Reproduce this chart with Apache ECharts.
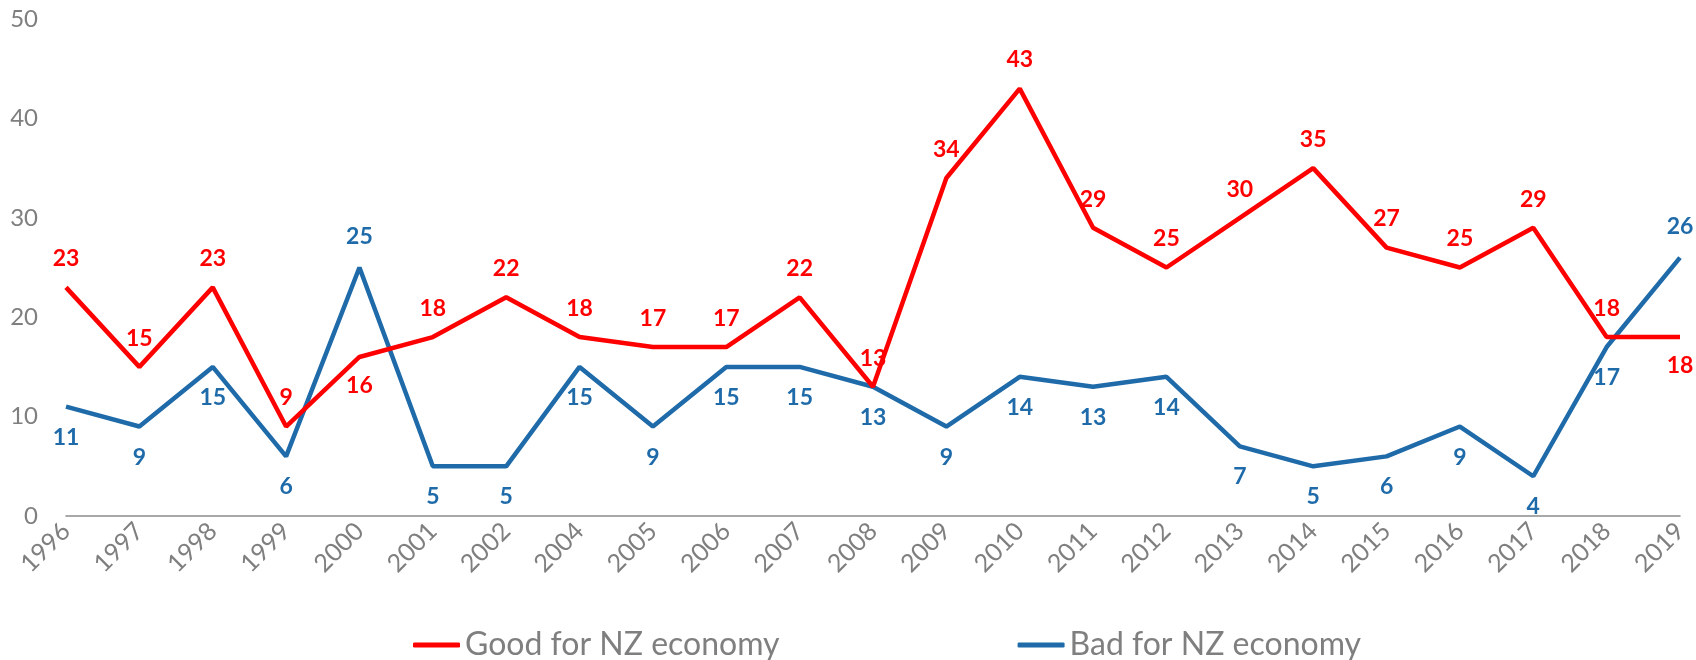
<!doctype html>
<html lang="en">
<head>
    <meta charset="utf-8">
    <title>NZ economy</title>
    <style>
        html, body { margin: 0; padding: 0; background: #fff; }
        #chart { width: 1696px; height: 660px; }
    </style>
</head>
<body>
    <div id="chart"></div>
    <script src="https://cdn.jsdelivr.net/npm/echarts@6/dist/echarts.min.js"></script>
    <script>
        var years = ['1996', '1997', '1998', '1999', '2000', '2001', '2002', '2004', '2005', '2006', '2007', '2008',
            '2009', '2010', '2011', '2012', '2013', '2014', '2015', '2016', '2017', '2018', '2019'];
        var goodVals = [23, 15, 23, 9, 16, 18, 22, 18, 17, 17, 22, 13, 34, 43, 29, 25, 30, 35, 27, 25, 29, 18, 18];
        var badVals = [11, 9, 15, 6, 25, 5, 5, 15, 9, 15, 15, 13, 9, 14, 13, 14, 7, 5, 6, 9, 4, 17, 26];

        // which labels sit on the other side of the line
        var goodFlip = [4, 22];
        var badFlip = [4, 22];

        var RED = '#FF0000';
        var BLUE = '#1F6BAA';
        var GREY = '#7F7F7F';
        var FONT = 'Lato';

        function withLabels(vals, flip, normalPos, otherPos) {
            return vals.map(function (v, i) {
                var pos = flip.indexOf(i) >= 0 ? otherPos : normalPos;
                return { value: v, label: { position: pos } };
            });
        }

        var chart = echarts.init(document.getElementById('chart'));
        chart.setOption({
            animation: false,
            textStyle: { fontFamily: FONT },
            grid: { left: 66, right: 16, top: 19, bottom: 144, containLabel: false },
            legend: {
                left: 408,
                top: 624,
                itemWidth: 47,
                itemHeight: 5,
                itemGap: 238,
                icon: 'roundRect',
                textStyle: { color: GREY, fontSize: 32, fontFamily: FONT },
                data: ['Good for NZ economy', 'Bad for NZ economy']
            },
            xAxis: {
                type: 'category',
                data: years,
                boundaryGap: false,
                axisLine: { lineStyle: { color: '#8C8C8C', width: 1.5 } },
                axisTick: { show: false },
                axisLabel: { rotate: 45, color: GREY, fontSize: 25, margin: 11, fontFamily: FONT }
            },
            yAxis: {
                type: 'value',
                min: 0,
                max: 50,
                interval: 10,
                axisLine: { show: false },
                axisTick: { show: false },
                splitLine: { show: false },
                axisLabel: { color: GREY, fontSize: 24, margin: 28, fontFamily: FONT }
            },
            series: [
                {
                    name: 'Good for NZ economy',
                    type: 'line',
                    data: withLabels(goodVals, goodFlip, 'top', 'bottom'),
                    color: RED,
                    symbol: 'circle',
                    symbolSize: 0.1,
                    showSymbol: true,
                    lineStyle: { color: RED, width: 4.5 },
                    label: { show: true, color: RED, fontSize: 23, fontWeight: 'bold', distance: 17, fontFamily: FONT },
                    labelLayout: { hideOverlap: false },
                    z: 3
                },
                {
                    name: 'Bad for NZ economy',
                    type: 'line',
                    data: withLabels(badVals, badFlip, 'bottom', 'top'),
                    color: BLUE,
                    symbol: 'circle',
                    symbolSize: 0.1,
                    showSymbol: true,
                    lineStyle: { color: BLUE, width: 4.5 },
                    label: { show: true, color: BLUE, fontSize: 23, fontWeight: 'bold', distance: 19, fontFamily: FONT },
                    labelLayout: { hideOverlap: false },
                    z: 2
                }
            ]
        });
    </script>
</body>
</html>
